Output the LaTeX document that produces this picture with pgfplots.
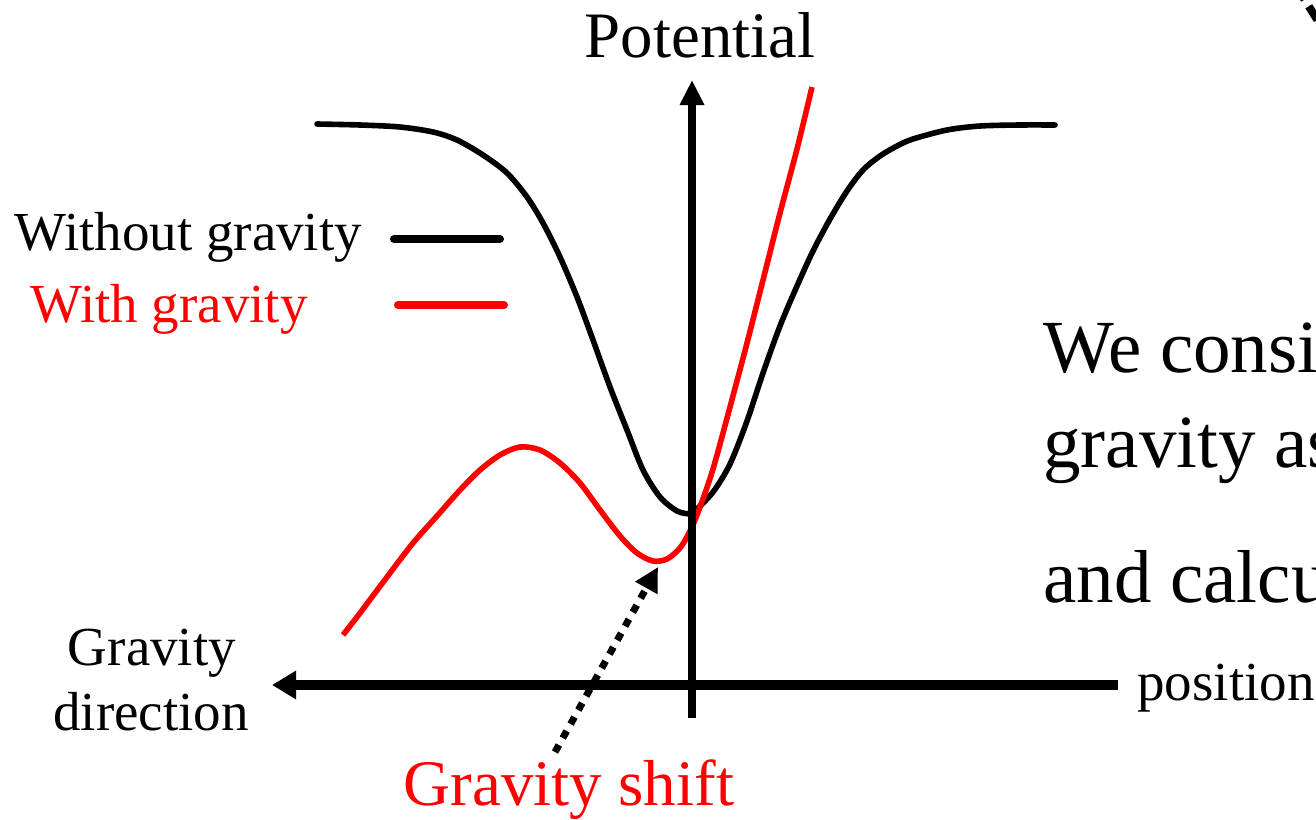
\documentclass[border=0pt]{standalone}
\usepackage{fontspec}
\setmainfont{Liberation Serif}
\usepackage{pgfplots}
\pgfplotsset{compat=1.18}
\usetikzlibrary{arrows.meta}
\definecolor{pred}{RGB}{255,0,0}
\begin{document}
\begin{tikzpicture}
\useasboundingbox (0,0) rectangle (658pt,409.5pt);
\clip (0,0) rectangle (658pt,409.5pt);
\begin{axis}[
  at={(0,0)}, anchor=south west,
  scale only axis, width=658pt, height=409.5pt,
  xmin=0, xmax=1316, ymin=0, ymax=819, y dir=reverse,
  hide axis, clip=false,
]
% without gravity
\addplot[black, line width=2.8pt, smooth, tension=0.5, line cap=round] coordinates {
 (317,124) (360,125) (400,127) (433,132) (457,140) (483,155) (507,173)
 (527,197) (543,223) (560,257) (577,297) (593,340) (610,387) (627,430)
 (643,470) (660,497) (677,511) (690,514)
 (693,513) (713,492) (730,464) (747,421) (763,373) (780,326) (797,286)
 (813,251) (830,219) (847,191) (863,170) (880,156) (897,146) (913,139)
 (947,130) (980,126) (1020,125) (1055,125)
};
% with gravity
\addplot[pred, line width=2.8pt, smooth, tension=0.5] coordinates {
 (343,635) (360,613) (387,577) (413,543) (437,516) (460,490) (480,470)
 (500,455) (520,447) (540,450) (560,463) (580,483) (600,510) (620,536)
 (637,553) (653,561) (667,559) (680,548) (690,531) (700,507)
 (713,469) (730,407) (747,343) (763,280) (780,213) (797,149) (812,87)
};
% axes arrows
\draw[line width=4pt, -{Triangle[length=12.5pt,width=11.5pt]}] (axis cs:692,718) -- (axis cs:692,80);
\draw[line width=5pt, -{Triangle[length=12pt,width=13.5pt]}] (axis cs:1118,685) -- (axis cs:272,685);
% gravity shift dotted arrow
\draw[line width=3.5pt, dash pattern=on 4pt off 4pt, -{Triangle[length=12pt,width=12pt,sep=0pt]}] (axis cs:555,752) -- (axis cs:658,567);
% legend lines
\draw[line width=4pt, line cap=round] (axis cs:394,239) -- (axis cs:500,239);
\draw[line width=4pt, line cap=round, pred] (axis cs:398,305) -- (axis cs:504,305);
% top-right fragment
\draw[line width=4pt, dash pattern=on 8pt off 4pt] (axis cs:1296,-14) -- (axis cs:1330,40);
% texts
\node[anchor=base, font=\fontsize{32.4}{36}\selectfont, inner sep=0pt] at (axis cs:700,57) {Potential};
\node[anchor=base west, font=\fontsize{27.5}{30}\selectfont, inner sep=0pt] at (axis cs:14,250) {Without gravity};
\node[anchor=base west, font=\fontsize{27.5}{30}\selectfont, inner sep=0pt, text=pred] at (axis cs:30,322) {With gravity};
\node[anchor=base, font=\fontsize{27.5}{30}\selectfont, inner sep=0pt] at (axis cs:152,665) {Gravity};
\node[anchor=base, font=\fontsize{27.5}{30}\selectfont, inner sep=0pt] at (axis cs:151,730) {direction};
\node[anchor=base west, font=\fontsize{27.5}{30}\selectfont, inner sep=0pt] at (axis cs:1137,700) {position};
\node[anchor=base, font=\fontsize{32.5}{36}\selectfont, inner sep=0pt, text=pred] at (axis cs:569,805) {Gravity shift};
\node[anchor=base west, font=\fontsize{37.5}{42}\selectfont, inner sep=0pt] at (axis cs:1043,372) {We consider};
\node[anchor=base west, font=\fontsize{37.5}{42}\selectfont, inner sep=0pt] at (axis cs:1043,467) {gravity as};
\node[anchor=base west, font=\fontsize{37.5}{42}\selectfont, inner sep=0pt] at (axis cs:1043,602) {and calculate};
\end{axis}
\end{tikzpicture}
\end{document}
